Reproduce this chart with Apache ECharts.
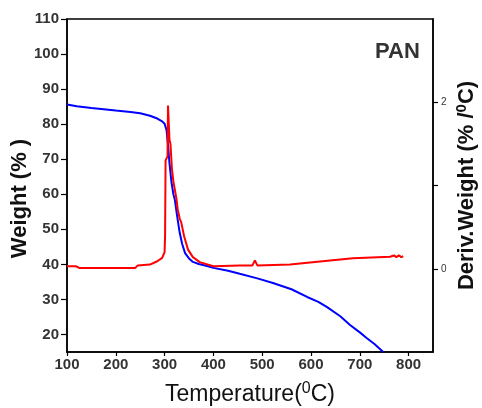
<!DOCTYPE html>
<html>
<head>
<meta charset="utf-8">
<script src="https://cdn.jsdelivr.net/npm/echarts@6/dist/echarts.min.js"></script>
<style>html,body{margin:0;padding:0;background:#fff}#c{width:482px;height:408px}</style>
</head>
<body>
<div id="c"></div>
<script>
// Weight (TGA) curve, left axis
var weightT = [100,120,150,180,200,230,250,270,285,295,300,304,307,310,314,318,321,326,331,336,342,350,358,370,385,400,430,454,490,522,560,592,615,633,660,680,700,714,730,748];
var weightV = [85.6,85.1,84.6,84.2,83.9,83.5,83.1,82.4,81.6,80.8,80.1,78.3,74,68.9,63.5,60,58.4,53.5,49,45.8,43.2,41.7,40.7,40.1,39.6,39.0,38.2,37.3,36.0,34.7,32.9,30.7,29.3,27.8,25.2,22.7,20.6,19.0,17.3,15.0];
// Derivative weight curve, right axis
var derivT = [100,118,125,180,240,245,270,285,295,300,301,302,306,307,309,310,312,315,318,321,324,327,331,334,340,348,358,372,400,454,480,485,490,557,560,639,686,762,770,775,780,785,789];
var derivV = [0.03,0.03,0.01,0.01,0.01,0.04,0.05,0.09,0.13,0.2,0.4,1.3,1.35,1.96,1.96,1.55,1.5,1.2,1.05,0.95,0.85,0.71,0.6,0.56,0.39,0.23,0.14,0.08,0.03,0.04,0.04,0.10,0.04,0.05,0.07,0.1,0.125,0.145,0.16,0.14,0.16,0.14,0.15];
// Tick labels
var xTicks = [100,200,300,400,500,600,700,800];
var yLeftTicks = [20,30,40,50,60,70,80,90,100,110];
var yRightLabels = [0,2];
var yRightTicks = [0,1,2];

function pairs(a,b){return a.map(function(v,i){return [v,b[i]];});}

var chart = echarts.init(document.getElementById('c'), null, {renderer:'canvas'});
var lblFont = 'Liberation Sans';
chart.setOption({
  animation:false,
  grid:{left:67,right:49,top:19,bottom:56,containLabel:false,outerBoundsMode:'none',show:true,borderColor:'#000',borderWidth:1.5,backgroundColor:'transparent'},
  xAxis:{type:'value',min:100,max:850,
    name:'{a|Temperature(}{s|0}{a|C)}',nameLocation:'middle',nameGap:29,nameMoveOverlap:false,
    nameTextStyle:{rich:{a:{fontFamily:lblFont,fontSize:23,color:'#111'},s:{fontFamily:lblFont,fontSize:16,color:'#111',padding:[0,0,11,0]}}},
    axisLine:{onZero:false,lineStyle:{color:'#000',width:1.5}},
    axisTick:{inside:false,length:4,lineStyle:{color:'#000',width:1.2},customValues:xTicks},
    axisLabel:{customValues:xTicks,margin:5,fontFamily:lblFont,fontSize:15,fontWeight:'bold',color:'#333'},
    splitLine:{show:false}},
  yAxis:[
    {type:'value',min:15,max:110,position:'left',
     name:'Weight (% )',nameLocation:'middle',nameGap:36,nameRotate:90,nameMoveOverlap:false,
     nameTextStyle:{fontFamily:lblFont,fontSize:22,fontWeight:'bold',color:'#111',padding:[0,26,0,0]},
     axisLine:{show:true,onZero:false,lineStyle:{color:'#000',width:1.5}},
     axisTick:{show:true,length:6,lineStyle:{color:'#000',width:1.2},customValues:yLeftTicks},
     axisLabel:{customValues:yLeftTicks,margin:8,fontFamily:lblFont,fontSize:15,fontWeight:'bold',color:'#333'},
     splitLine:{show:false}},
    {type:'value',min:-1,max:3,position:'right',
     name:'{a|Deriv.Weight (% /}{s|0}{a|C)}',nameLocation:'middle',nameGap:21,nameRotate:90,nameMoveOverlap:false,
     nameTextStyle:{rich:{a:{fontFamily:lblFont,fontSize:22,fontWeight:'bold',color:'#111'},s:{fontFamily:lblFont,fontSize:15,fontWeight:'bold',color:'#111',padding:[0,0,10,0]}}},
     axisLine:{show:true,onZero:false,lineStyle:{color:'#000',width:1.5}},
     axisTick:{show:true,length:5,lineStyle:{color:'#000',width:1.2},customValues:yRightTicks},
     axisLabel:{customValues:yRightLabels,margin:8,fontFamily:lblFont,fontSize:10,color:'#333'},
     splitLine:{show:false}}
  ],
  graphic:[{type:'text',left:375,top:41,style:{text:'PAN',font:'bold 22px Liberation Sans',fill:'#333'}}],
  series:[
    {type:'line',yAxisIndex:0,data:pairs(weightT,weightV),showSymbol:false,lineStyle:{color:'#0000ff',width:2},itemStyle:{color:'#0000ff'},clip:true,z:2},
    {type:'line',yAxisIndex:1,data:pairs(derivT,derivV),showSymbol:false,lineStyle:{color:'#ff0000',width:2},itemStyle:{color:'#ff0000'},clip:true,z:3}
  ]
});
</script>
</body>
</html>
